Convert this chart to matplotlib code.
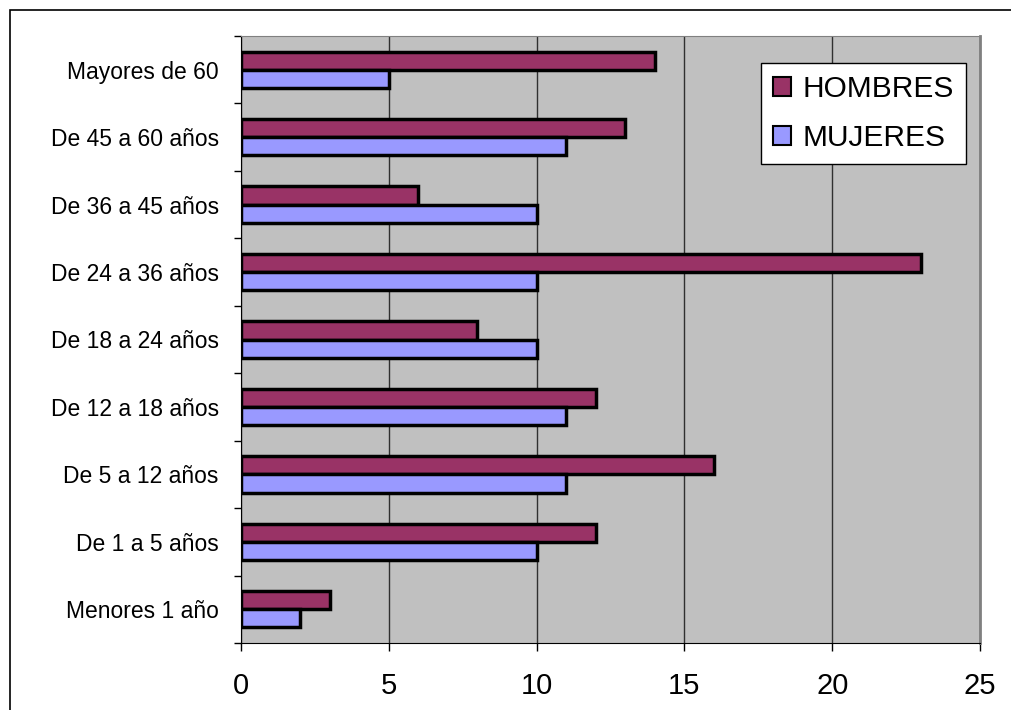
import matplotlib.pyplot as plt
import numpy as np
from matplotlib.patches import Rectangle

plt.rcParams['font.family'] = ['Liberation Sans', 'DejaVu Sans']

# datos
categorias = ['Menores 1 año', 'De 1 a 5 años', 'De 5 a 12 años', 'De 12 a 18 años',
              'De 18 a 24 años', 'De 24 a 36 años', 'De 36 a 45 años',
              'De 45 a 60 años', 'Mayores de 60']
hombres = [3, 12, 16, 12, 8, 23, 6, 13, 14]
mujeres = [2, 10, 11, 11, 10, 10, 10, 11, 5]

W, H = 1012, 710
fig = plt.figure(figsize=(W / 100, H / 100), dpi=100)
# marco exterior
fig.patches.append(Rectangle((10 / W, -0.1), 1.2, 1 - 10 / H + 0.1, transform=fig.transFigure,
                             fill=False, edgecolor='black', linewidth=1.2))

ax = fig.add_axes([241 / W, 1 - 643 / H, (980 - 241) / W, (643 - 36) / H])
ax.set_facecolor('#c0c0c0')

y = np.arange(len(categorias))
h = 0.27
ax.barh(y + h / 2, hombres, height=h, color='#993366', edgecolor='black', linewidth=2.5,
        label='HOMBRES', zorder=3)
ax.barh(y - h / 2, mujeres, height=h, color='#9999ff', edgecolor='black', linewidth=2.5,
        label='MUJERES', zorder=3)

ax.set_xlim(0, 25)
ax.set_ylim(-0.5, len(categorias) - 0.5)
ax.set_xticks([0, 5, 10, 15, 20, 25])
ax.tick_params(axis='x', labelsize=21, length=6, width=1, direction='out', pad=15)
ax.xaxis.grid(True, color='#303030', linewidth=1, zorder=1)

ax.set_yticks(y)
ax.set_yticklabels(categorias, fontsize=16.5)
ax.tick_params(axis='y', length=0, pad=16)
ax.set_yticks(np.arange(-0.5, len(categorias), 1), minor=True)
ax.tick_params(axis='y', which='minor', length=5, width=1, direction='out')

ax.spines['left'].set_color('black')
ax.spines['bottom'].set_color('black')
ax.spines['top'].set_color('#808080')
ax.spines['right'].set_color('#808080')
ax.spines['right'].set_linewidth(2)

leg = ax.legend(loc='upper right', bbox_to_anchor=((966 - 241) / (980 - 241), 1 - (63 - 36) / (643 - 36)),
                fontsize=21.5, frameon=True, fancybox=False, edgecolor='black', framealpha=1,
                handlelength=0.6, handleheight=0.6, handletextpad=0.4, labelspacing=0.7,
                borderpad=0.4, borderaxespad=0)
leg.get_frame().set_linewidth(1)
for p in leg.get_patches():
    p.set_linewidth(1.5)

fig.savefig('out.png', dpi=100)
